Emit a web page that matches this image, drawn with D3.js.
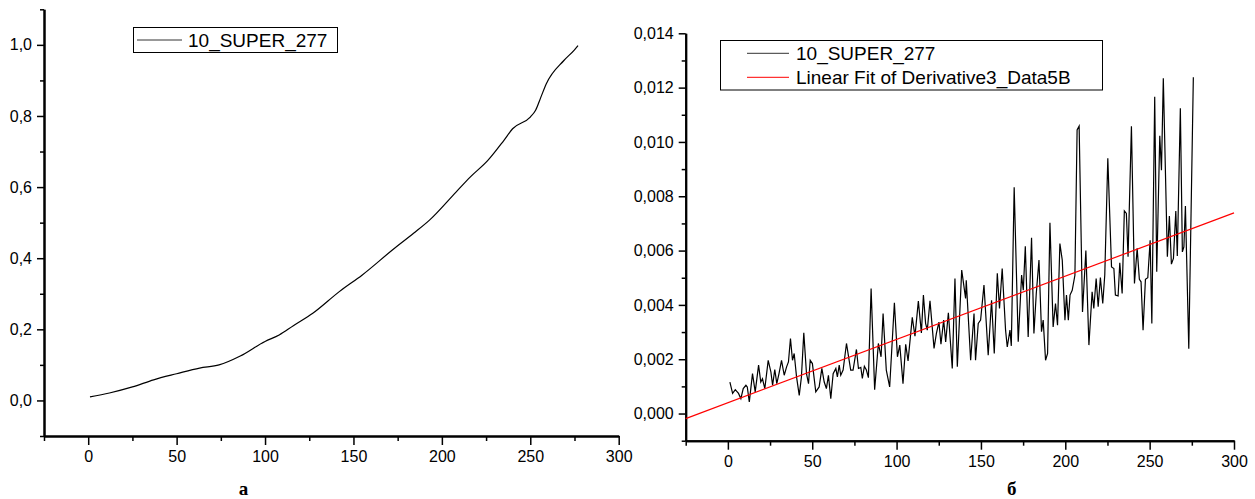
<!DOCTYPE html>
<html>
<head>
<meta charset="utf-8">
<script src="https://cdn.jsdelivr.net/npm/d3@7"></script>
<style>
  body { margin: 0; background: #fff; }
  svg { display: block; }
  .tick text { font-family: "Liberation Sans", Arial, sans-serif; font-size: 16px; fill: #000; }
  .legend text { font-family: "Liberation Sans", Arial, sans-serif; font-size: 19px; fill: #000; }
</style>
</head>
<body>
<div id="container"></div>
<script>
// left panel: cumulative curve 10_SUPER_277
const cumX = [1, 12, 25, 37, 50, 63, 74, 86, 100, 108, 116, 127, 142, 155, 172, 184, 193, 208, 216, 226, 235, 240, 250, 253, 256, 259, 269, 275, 277];
const cumY = [0.010, 0.021, 0.038, 0.058, 0.075, 0.091, 0.100, 0.125, 0.166, 0.184, 0.210, 0.245, 0.306, 0.353, 0.423, 0.470, 0.507, 0.586, 0.628, 0.675, 0.731, 0.764, 0.797, 0.816, 0.853, 0.890, 0.956, 0.986, 0.998];

// right panel: derivative 10_SUPER_277 (peaks and troughs)
const derX = [1.2, 2.8, 4.4, 6.3, 7.7, 9.1, 10.7, 11.5, 12.7, 14.6, 16.2, 18.2, 19.5, 20.5, 21.9, 23.9, 25.5, 26.5, 27.8, 29.0,
  30.3, 31.8, 33.4, 34.8, 35.9, 37.1, 38.3, 39.3, 40.7, 42.3, 43.6, 45.0, 46.6, 47.8, 48.8, 50.1, 52.1, 54.1, 55.7, 57.1,
  58.4, 59.6, 61.0, 62.4, 64.0, 64.9, 66.0, 66.9, 68.3, 70.3, 72.8, 74.2, 76.2, 77.4, 78.8, 79.7, 80.9, 82.1, 83.3, 84.9,
  87.0, 89.2, 90.8, 92.0, 93.9, 95.9, 98.7, 100.5, 101.9, 103.8, 105.4, 106.8, 109.3, 110.9, 112.9, 114.7, 115.9, 117.2, 118.2, 119.8,
  122.2, 123.6, 125.1, 126.3, 127.9, 129.1, 130.7, 133.0, 134.6, 136.0, 138.6, 140.9, 141.3, 143.9, 145.9, 146.8, 148.4, 149.8, 151.8, 154.3,
  156.3, 157.9, 159.7, 161.0, 162.6, 164.6, 165.6, 167.2, 168.0, 169.7, 172.1, 174.1, 175.1, 176.3, 178.0, 180.0, 181.4, 182.8, 184.4, 185.9,
  186.9, 188.3, 189.5, 190.9, 192.8, 194.2, 195.4, 196.8, 198.2, 199.8, 200.7, 201.8, 202.8, 204.1, 205.7, 207.0, 208.2, 210.2, 212.2, 214.0,
  215.9, 216.9, 218.3, 219.5, 220.8, 222.2, 223.4, 225.2, 227.4, 228.8, 229.7, 231.3, 232.3, 233.7, 235.0, 236.2, 237.2, 239.2, 241.0, 242.6,
  243.9, 244.9, 246.1, 247.5, 248.9, 250.3, 251.3, 253.0, 254.2, 256.0, 257.0, 258.1, 260.5, 261.7, 262.9, 264.1, 265.5, 266.4, 268.2, 269.4,
  270.3, 271.2, 273.2, 275.9];
const derY = [0.00116, 0.00074, 0.00088, 0.00074, 0.00055, 0.00092, 0.00104, 0.00098, 0.00043, 0.00147, 0.00080, 0.00178, 0.00116, 0.00128, 0.00092, 0.00196, 0.00153, 0.00104, 0.00162, 0.00110,
  0.00147, 0.00196, 0.00141, 0.00172, 0.00190, 0.00276, 0.00196, 0.00221, 0.00135, 0.00067, 0.00135, 0.00297, 0.00147, 0.00110, 0.00196, 0.00184, 0.00080, 0.00098, 0.00166, 0.00116,
  0.00092, 0.00141, 0.00055, 0.00147, 0.00166, 0.00135, 0.00178, 0.00141, 0.00160, 0.00258, 0.00160, 0.00160, 0.00236, 0.00166, 0.00170, 0.00129, 0.00174, 0.00160, 0.00132, 0.00460,
  0.00088, 0.00258, 0.00209, 0.00368, 0.00160, 0.00098, 0.00408, 0.00209, 0.00252, 0.00110, 0.00255, 0.00194, 0.00354, 0.00285, 0.00414, 0.00297, 0.00436, 0.00332, 0.00307, 0.00415,
  0.00240, 0.00295, 0.00337, 0.00255, 0.00344, 0.00264, 0.00371, 0.00166, 0.00497, 0.00172, 0.00528, 0.00424, 0.00491, 0.00196, 0.00368, 0.00196, 0.00332, 0.00344, 0.00473, 0.00215,
  0.00417, 0.00221, 0.00516, 0.00387, 0.00534, 0.00307, 0.00245, 0.00307, 0.00249, 0.00833, 0.00264, 0.00510, 0.00454, 0.00616, 0.00282, 0.00647, 0.00295, 0.00442, 0.00565, 0.00301,
  0.00344, 0.00196, 0.00221, 0.00702, 0.00319, 0.00405, 0.00325, 0.00626, 0.00565, 0.00344, 0.00436, 0.00344, 0.00436, 0.00454, 0.00509, 0.01044, 0.01058, 0.00374, 0.00600, 0.00252,
  0.00448, 0.00387, 0.00497, 0.00393, 0.00501, 0.00405, 0.00510, 0.00940, 0.00540, 0.00534, 0.00436, 0.00433, 0.00555, 0.00442, 0.00746, 0.00737, 0.00577, 0.01058, 0.00479, 0.00608,
  0.00494, 0.00485, 0.00307, 0.00494, 0.00500, 0.00638, 0.00332, 0.01166, 0.00522, 0.01023, 0.00896, 0.01234, 0.00577, 0.00727, 0.00550, 0.00571, 0.00746, 0.00580, 0.01124, 0.00595,
  0.00614, 0.00764, 0.00239, 0.01238];

// linear fit end points
const fitX = [-25, 300];
const fitY = [-0.000185, 0.00739];

const xMajor = [0, 50, 100, 150, 200, 250, 300];
const xMinor = [-25, 25, 75, 125, 175, 225, 275];
const yMajorL = [0, 0.2, 0.4, 0.6, 0.8, 1.0];
const yMinorL = [-0.1, 0.1, 0.3, 0.5, 0.7, 0.9, 1.1];
const yMajorR = [0, 0.002, 0.004, 0.006, 0.008, 0.010, 0.012, 0.014];
const yMinorR = [-0.001, 0.001, 0.003, 0.005, 0.007, 0.009, 0.011, 0.013];

const seriesName = "10_SUPER_277";
const fitName = "Linear Fit of Derivative3_Data5B";

const w = 1255;
const h = 499;

const svg = d3.select('#container').append('svg')
    .attr('width', w)
    .attr('height', h);

const comma = digits => d => d.toFixed(digits).replace('.', ',');

const drawAxes = (g, xScale, yScale, yMajor, yMinor, digits) => {
    const [y0] = yScale.range();
    const [x0] = xScale.range();

    g.append('g')
        .attr('transform', `translate(0,${y0})`)
        .call(d3.axisBottom(xScale).tickValues(xMinor).tickSize(5).tickSizeOuter(0).tickFormat(''));
    g.append('g')
        .attr('transform', `translate(0,${y0})`)
        .call(d3.axisBottom(xScale).tickValues(xMajor).tickSize(9).tickSizeOuter(0).tickPadding(6).tickFormat(d => d));

    g.append('g')
        .attr('transform', `translate(${x0},0)`)
        .call(d3.axisLeft(yScale).tickValues(yMinor).tickSize(4).tickSizeOuter(0).tickFormat(''));
    g.append('g')
        .attr('transform', `translate(${x0},0)`)
        .call(d3.axisLeft(yScale).tickValues(yMajor).tickSize(7).tickSizeOuter(0).tickPadding(5).tickFormat(comma(digits)));

    g.selectAll('.domain').attr('stroke', '#000').attr('stroke-width', 2);
    g.selectAll('.tick line').attr('stroke', '#000').attr('stroke-width', 1.5);
};

// left panel
const xL = d3.scaleLinear().domain([-25, 300]).range([44, 618.7]);
const yL = d3.scaleLinear().domain([-0.1, 1.1]).range([436, 9.3]);
const left = svg.append('g');
drawAxes(left, xL, yL, yMajorL, yMinorL, 1);

left.append('path')
    .datum(cumX.map((x, i) => [x, cumY[i]]))
    .attr('fill', 'none')
    .attr('stroke', '#000')
    .attr('stroke-width', 1.2)
    .attr('d', d3.line().curve(d3.curveMonotoneX).x(d => xL(d[0])).y(d => yL(d[1])));

const legL = left.append('g').attr('class', 'legend');
legL.append('rect')
    .attr('x', 133.5).attr('y', 27.5).attr('width', 204).attr('height', 25)
    .attr('fill', '#fff').attr('stroke', '#000').attr('stroke-width', 1);
legL.append('line')
    .attr('x1', 137).attr('x2', 182).attr('y1', 40).attr('y2', 40)
    .attr('stroke', '#333').attr('stroke-width', 1);
legL.append('text')
    .attr('x', 188).attr('y', 47).text(seriesName);

// right panel
const xR = d3.scaleLinear().domain([-25, 300]).range([685.7, 1234]);
const yR = d3.scaleLinear().domain([-0.001, 0.014]).range([440.7, 33.3]);
const right = svg.append('g');
drawAxes(right, xR, yR, yMajorR, yMinorR, 3);

right.append('path')
    .datum(derX.map((x, i) => [x, derY[i]]))
    .attr('fill', 'none')
    .attr('stroke', '#000')
    .attr('stroke-width', 1.2)
    .attr('d', d3.line().x(d => xR(d[0])).y(d => yR(d[1])));

right.append('path')
    .datum(fitX.map((x, i) => [x, fitY[i]]))
    .attr('fill', 'none')
    .attr('stroke', '#ff0000')
    .attr('stroke-width', 1.2)
    .attr('d', d3.line().x(d => xR(d[0])).y(d => yR(d[1])));

const legR = right.append('g').attr('class', 'legend');
legR.append('rect')
    .attr('x', 720.5).attr('y', 40.5).attr('width', 382).attr('height', 49.5)
    .attr('fill', '#fff').attr('stroke', '#000').attr('stroke-width', 1);
[[seriesName, '#333'], [fitName, '#ff0000']].forEach(([name, color], i) => {
    const cy = 53.3 + i * 24;
    legR.append('line')
        .attr('x1', 747).attr('x2', 789).attr('y1', cy).attr('y2', cy)
        .attr('stroke', color).attr('stroke-width', 1);
    legR.append('text')
        .attr('x', 796).attr('y', cy + 7).text(name);
});

// panel captions
svg.append('text')
    .attr('x', 243.5).attr('y', 495)
    .attr('text-anchor', 'middle')
    .attr('font-family', '"Liberation Serif", "Times New Roman", serif')
    .attr('font-weight', 'bold')
    .attr('font-size', 19)
    .text('а');
svg.append('text')
    .attr('x', 1011.7).attr('y', 495)
    .attr('text-anchor', 'middle')
    .attr('font-family', '"Liberation Serif", "Times New Roman", serif')
    .attr('font-weight', 'bold')
    .attr('font-size', 19)
    .text('б');
</script>
</body>
</html>
